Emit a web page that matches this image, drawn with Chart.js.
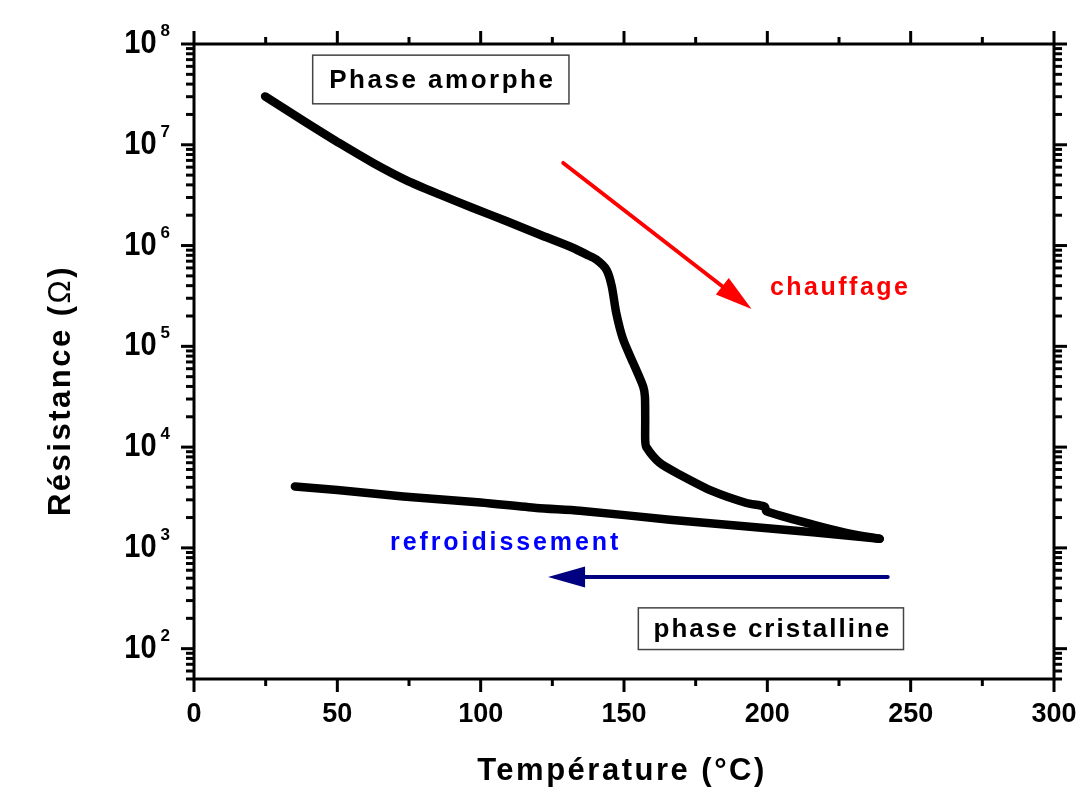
<!DOCTYPE html>
<html><head><meta charset="utf-8">
<script src="https://cdn.jsdelivr.net/npm/chart.js@4.4.0/dist/chart.umd.min.js"></script>
<style>html,body{margin:0;padding:0;background:#fff;}canvas{display:block;}</style>
</head><body>
<canvas id="c" width="1084" height="789"></canvas>
<script>
// ---- data ----
const heatT = [24.8, 31.1, 39.3, 50.9, 62.5, 74.1, 85.8, 97.3, 109.1, 120.7, 132.3, 137.0, 140.4, 143.9, 145.7, 147.3, 149.7, 153.2, 156.7, 157.3, 157.4, 157.4, 157.8, 162.5, 169.5, 181.1, 192.7, 199.1, 199.7, 215.9, 227.5, 239.2];
const heatR = [3.02e7, 2.32e7, 1.65e7, 1.03e7, 6.6e6, 4.44e6, 3.2e6, 2.36e6, 1.74e6, 1.28e6, 9.46e5, 8.13e5, 7.24e5, 5.75e5, 3.98e5, 2.14e5, 1.17e5, 6.84e4, 3.98e4, 3.16e4, 1.78e4, 1.17e4, 1.0e4, 6970, 5330, 3630, 2790, 2570, 2310, 1700, 1410, 1230];
const coolT = [239.2, 215.9, 190, 166, 134.6, 119.5, 100, 73, 50, 35.2];
const coolR = [1230, 1430, 1660, 1905, 2340, 2490, 2820, 3240, 3760, 4070];
const xTickValues = [0, 50, 100, 150, 200, 250, 300];
const yTickExponents = [2, 3, 4, 5, 6, 7, 8];
const xTitle = 'Température (°C)';
const yTitleParts = ['Résistance (', 'Ω', ')'];
const boxLabels = ['Phase amorphe', 'phase cristalline'];
const arrowLabels = ['chauffage', 'refroidissement'];

// ---- annotation placement (data units) ----
const boxPos = [
  {x0: 41.4, x1: 130.8, y0: 7.75e7, y1: 2.55e7},
  {x0: 155.0, x1: 247.5, y0: 254, y1: 98}
];
const arrowPos = [
  {x0: 128.8, y0: 6.6e6, x1: 194.5, y1: 2.35e5, color: '#ff0000'},
  {x0: 242.0, y0: 515, x1: 123.5, y1: 515, color: '#000080'}
];
const arrowTextPos = [
  {x: 200.9, y: 3.82e5, color: '#ff0000'},
  {x: 68.4, y: 1120, color: '#0000ff'}
];

const FONT = '"Liberation Sans", Arial, sans-serif';

function line(ctx, x0, y0, x1, y1) { ctx.beginPath(); ctx.moveTo(x0, y0); ctx.lineTo(x1, y1); ctx.stroke(); }

const axesPlugin = {
  id: 'axesDecor',
  afterDatasetsDraw(chart) {
    const ctx = chart.ctx, a = chart.chartArea, xs = chart.scales.x, ys = chart.scales.y;
    ctx.save();
    ctx.strokeStyle = '#000'; ctx.lineWidth = 3; ctx.lineCap = 'butt';
    ctx.strokeRect(a.left, a.top, a.right - a.left, a.bottom - a.top);
    // x ticks (bottom & top)
    for (let v = 0; v <= 300; v += 25) {
      const px = xs.getPixelForValue(v);
      const L = (v % 50 === 0) ? 13 : 7;
      line(ctx, px, a.bottom, px, a.bottom + L);
      line(ctx, px, a.top, px, a.top - L);
    }
    // y ticks (left & right)
    for (let k = 1; k <= 8; k++) {
      for (let m = 1; m <= 9; m++) {
        const v = m * Math.pow(10, k);
        if (v < 50 || v > 1e8) continue;
        const py = ys.getPixelForValue(v);
        const L = (m === 1) ? 13 : 8;
        line(ctx, a.left - L, py, a.left, py);
        line(ctx, a.right, py, a.right + L, py);
      }
    }
    // x tick labels
    ctx.fillStyle = '#000';
    ctx.font = 'bold 27px ' + FONT;
    ctx.textAlign = 'center'; ctx.textBaseline = 'middle';
    xTickValues.forEach(v => ctx.fillText(String(v), xs.getPixelForValue(v), a.bottom + 36));
    // y tick labels 10^n
    yTickExponents.forEach(n => {
      const py = ys.getPixelForValue(Math.pow(10, n));
      ctx.font = 'bold 17px ' + FONT;
      const sw = ctx.measureText(String(n)).width;
      const right = a.left - 24;
      ctx.textAlign = 'right'; ctx.textBaseline = 'alphabetic';
      ctx.fillText(String(n), right, py - 8);
      ctx.save();
      ctx.translate(right - sw - 4, py);
      ctx.scale(1, 1.12);
      ctx.font = 'bold 29px ' + FONT;
      ctx.textBaseline = 'middle';
      ctx.fillText('10', 0, 0);
      ctx.restore();
    });
    // x title
    ctx.font = 'bold 31px ' + FONT;
    ctx.letterSpacing = '2.5px';
    ctx.textAlign = 'center'; ctx.textBaseline = 'alphabetic';
    ctx.fillText(xTitle, (a.left + a.right) / 2 - 2, a.bottom + 101);
    // y title (rotated)
    ctx.save();
    ctx.translate(70, (a.top + a.bottom) / 2 + 29);
    ctx.rotate(-Math.PI / 2);
    const fonts = ['bold 31px ' + FONT, '31px ' + FONT, 'bold 31px ' + FONT];
    let total = 0; const ws = [];
    yTitleParts.forEach((s, i) => { ctx.font = fonts[i]; const w = ctx.measureText(s).width; ws.push(w); total += w; });
    let cx = -total / 2;
    ctx.textAlign = 'left';
    yTitleParts.forEach((s, i) => { ctx.font = fonts[i]; ctx.fillText(s, cx, 0); cx += ws[i]; });
    ctx.restore();
    // boxes
    boxLabels.forEach((t, i) => {
      const b = boxPos[i];
      const x0 = xs.getPixelForValue(b.x0), x1 = xs.getPixelForValue(b.x1);
      const y0 = ys.getPixelForValue(b.y0), y1 = ys.getPixelForValue(b.y1);
      ctx.fillStyle = '#fff'; ctx.fillRect(x0, y0, x1 - x0, y1 - y0);
      ctx.strokeStyle = '#444'; ctx.lineWidth = 1.5;
      ctx.strokeRect(x0, y0, x1 - x0, y1 - y0);
      ctx.fillStyle = '#000';
      ctx.font = 'bold 26px ' + FONT;
      ctx.letterSpacing = i === 0 ? '2.5px' : '2px';
      ctx.textAlign = 'center'; ctx.textBaseline = 'middle';
      ctx.fillText(t, (x0 + x1) / 2 + 1.5, (y0 + y1) / 2 + 1);
    });
    // arrows
    arrowPos.forEach(ar => {
      const x0 = xs.getPixelForValue(ar.x0), y0 = ys.getPixelForValue(ar.y0);
      const x1 = xs.getPixelForValue(ar.x1), y1 = ys.getPixelForValue(ar.y1);
      const dx = x1 - x0, dy = y1 - y0, len = Math.hypot(dx, dy);
      const ux = dx / len, uy = dy / len;
      const hl = 37, hw = 10.5;
      ctx.strokeStyle = ar.color; ctx.fillStyle = ar.color; ctx.lineWidth = 4; ctx.lineCap = 'round';
      line(ctx, x0, y0, x1 - ux * (hl - 4), y1 - uy * (hl - 4));
      const bx = x1 - ux * hl, by = y1 - uy * hl;
      ctx.beginPath();
      ctx.moveTo(x1, y1);
      ctx.lineTo(bx - uy * hw, by + ux * hw);
      ctx.lineTo(bx + uy * hw, by - ux * hw);
      ctx.closePath(); ctx.fill();
    });
    // arrow texts
    arrowLabels.forEach((t, i) => {
      const p = arrowTextPos[i];
      ctx.fillStyle = p.color;
      ctx.font = 'bold 25px ' + FONT;
      ctx.letterSpacing = i === 0 ? '2.5px' : '2.9px';
      ctx.textAlign = 'left'; ctx.textBaseline = 'middle';
      ctx.fillText(t, xs.getPixelForValue(p.x), ys.getPixelForValue(p.y));
    });
    ctx.restore();
  }
};

const mk = (T, R) => T.map((t, i) => ({x: t, y: R[i]}));
const dsStyle = {borderColor: '#000', backgroundColor: '#000', borderWidth: 8.5, pointRadius: 0, tension: 0.25,
  borderCapStyle: 'round', borderJoinStyle: 'round', fill: false};

new Chart(document.getElementById('c'), {
  type: 'line',
  data: {datasets: [
    Object.assign({label: 'chauffage', data: mk(heatT, heatR)}, dsStyle),
    Object.assign({label: 'refroidissement', data: mk(coolT, coolR)}, dsStyle)
  ]},
  options: {
    responsive: false, animation: false, events: [],
    layout: {padding: {top: 44, right: 30, left: 0, bottom: 0}},
    plugins: {legend: {display: false}, tooltip: {enabled: false}, title: {display: false}},
    scales: {
      x: {type: 'linear', min: 0, max: 300, grid: {display: false}, border: {display: false},
          ticks: {display: false}, afterFit(s) { s.height = 110; }},
      y: {type: 'logarithmic', min: 50, max: 1e8, grid: {display: false}, border: {display: false},
          ticks: {display: false}, afterFit(s) { s.width = 194; }}
    }
  },
  plugins: [axesPlugin]
});
</script>
</body></html>
